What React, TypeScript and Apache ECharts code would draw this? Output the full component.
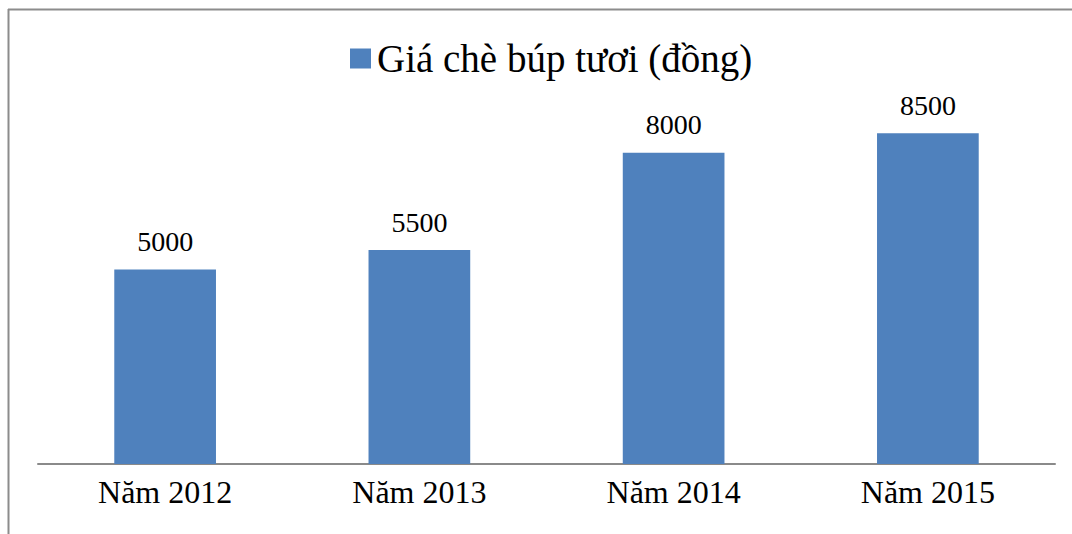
import React, { useEffect, useRef } from "react";
import * as echarts from "echarts";

const categories = ["Năm 2012", "Năm 2013", "Năm 2014", "Năm 2015"];
const prices = [5000, 5500, 8000, 8500];
const seriesName = "Giá chè búp tươi (đồng)";

export default function App() {
  const ref = useRef<HTMLDivElement>(null);
  useEffect(() => {
    const chart = echarts.init(ref.current!, null, { renderer: "svg" });
    const font = "Liberation Serif";
    chart.setOption({
      animation: false,
      backgroundColor: "#ffffff",
      textStyle: { fontFamily: font },
      legend: {
        show: true,
        left: 345,
        top: 34,
        itemWidth: 21,
        itemHeight: 20,
        icon: "rect",
        data: [seriesName],
        textStyle: { fontFamily: font, fontSize: 39, color: "#000", padding: [0, 0, 0, 1] },
      },
      grid: { left: 38, right: 17, top: 75, bottom: 70 },
      xAxis: {
        type: "category",
        data: categories,
        axisLine: { show: true, lineStyle: { color: "#8a8a8a", width: 2 } },
        axisTick: { show: false },
        axisLabel: { fontFamily: font, fontSize: 32, color: "#000", margin: 12 },
      },
      yAxis: {
        type: "value",
        min: 0,
        max: 10000,
        show: false,
        splitLine: { show: false },
      },
      series: [
        {
          name: seriesName,
          type: "bar",
          data: prices,
          barWidth: "40%",
          itemStyle: { color: "#4F81BD" },
          label: {
            show: true,
            position: "top",
            distance: 14,
            fontFamily: "Times New Roman",
            fontSize: 28,
            fontWeight: "normal",
            color: "#000",
          },
        },
      ],
      graphic: [
        { type: "line", shape: { x1: 8, y1: 9.5, x2: 1072, y2: 9.5 }, style: { stroke: "#8c8c8c", lineWidth: 2 } },
        { type: "line", shape: { x1: 8.5, y1: 9, x2: 8.5, y2: 534 }, style: { stroke: "#8c8c8c", lineWidth: 2 } },
      ],
    });
    return () => chart.dispose();
  }, []);
  return (
    <div
      ref={ref}
      style={{ position: "absolute", left: 0, top: 0, width: 1072, height: 534 }}
    />
  );
}
